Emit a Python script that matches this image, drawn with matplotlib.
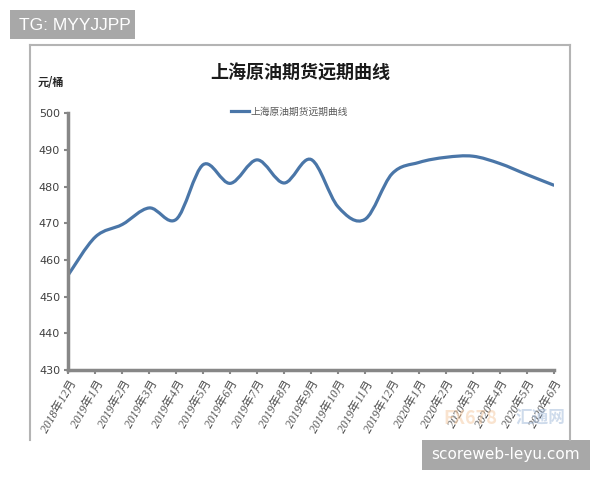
import matplotlib
matplotlib.use("Agg")
import matplotlib.pyplot as plt
from matplotlib.path import Path
from matplotlib.patches import PathPatch, Rectangle
from matplotlib.lines import Line2D

plt.rcParams['font.family'] = ['Noto Sans CJK SC', 'DejaVu Sans']

months = ["2018年12月", "2019年1月", "2019年2月", "2019年3月", "2019年4月",
          "2019年5月", "2019年6月", "2019年7月", "2019年8月", "2019年9月",
          "2019年10月", "2019年11月", "2019年12月", "2020年1月", "2020年2月",
          "2020年3月", "2020年4月", "2020年5月", "2020年6月"]
prices = [456.0, 466.3, 469.7, 474.2, 471.1,
          486.0, 480.9, 487.3, 481.0, 487.4,
          474.5, 471.1, 483.5, 486.6, 488.0,
          488.3, 486.3, 483.3, 480.4]
y_ticks = [430, 440, 450, 460, 470, 480, 490, 500]

title = "上海原油期货远期曲线"
line_color = "#4a76a8"
axis_gray = "#878787"


def smooth_path(xs, ys):
    # Catmull-Rom segments as cubic beziers, like a spreadsheet "smoothed line"
    verts = [(xs[0], ys[0])]
    codes = [Path.MOVETO]
    n = len(xs)
    for i in range(n - 1):
        x0, y0 = (xs[i - 1], ys[i - 1]) if i > 0 else (xs[i], ys[i])
        x1, y1 = xs[i], ys[i]
        x2, y2 = xs[i + 1], ys[i + 1]
        x3, y3 = (xs[i + 2], ys[i + 2]) if i + 2 < n else (x2, y2)
        verts += [(x1 + (x2 - x0) / 6, y1 + (y2 - y0) / 6),
                  (x2 - (x3 - x1) / 6, y2 - (y3 - y1) / 6),
                  (x2, y2)]
        codes += [Path.CURVE4] * 3
    return Path(verts, codes)


fig = plt.figure(figsize=(6, 4.8), dpi=100)
ax = fig.add_axes([0.114, 0.229, 0.809, 0.535])

xs = list(range(len(months)))
ax.add_patch(PathPatch(smooth_path(xs, prices), fill=False,
                       edgecolor=line_color, lw=2.3, capstyle='round'))
ax.set_xlim(0, len(months) - 1)
ax.set_ylim(y_ticks[0], y_ticks[-1])

ax.set_yticks(y_ticks)
ax.set_yticklabels([str(v) for v in y_ticks], color="#404040", fontsize=8,
                   family=['Liberation Sans Narrow', 'DejaVu Sans'])
ax.set_xticks(xs)
ax.set_xticklabels(months, rotation=60, ha='right', rotation_mode='anchor',
                   color="#505050", fontsize=8.5, style='italic',
                   family=['Liberation Serif', 'Noto Sans CJK SC'])

for side in ("top", "right"):
    ax.spines[side].set_visible(False)
for side in ("left", "bottom"):
    ax.spines[side].set_color(axis_gray)
    ax.spines[side].set_linewidth(2.5)
ax.tick_params(axis='both', direction='out', length=3, width=1.5,
               color=axis_gray, pad=3)

handle = Line2D([], [], color=line_color, lw=2.3)
fig.legend([handle], [title], loc='center', bbox_to_anchor=(0.483, 0.767),
           frameon=False, fontsize=7, handlelength=1.8, handletextpad=0.2,
           labelcolor="#595959")

fig.text(0.5, 1 - 73 / 480, title, ha='center', va='center',
         fontsize=13, weight='bold', color="#1a1a1a")
fig.text(38 / 600, 1 - 83 / 480, "元/桶", ha='left', va='center',
         fontsize=8, weight='bold', color="#262626")

# chart frame, bottom edge is cut off in the source image
frame_gray = "#b4b4b4"
fig.add_artist(Line2D([30 / 600, 30 / 600], [1 - 440 / 480, 1 - 45 / 480],
                      color=frame_gray, lw=1.5))
fig.add_artist(Line2D([570 / 600, 570 / 600], [1 - 440 / 480, 1 - 45 / 480],
                      color=frame_gray, lw=1.5))
fig.add_artist(Line2D([30 / 600, 570 / 600], [1 - 45 / 480, 1 - 45 / 480],
                      color=frame_gray, lw=1.5))

# faint logo watermark
fig.text(470 / 600, 1 - 418 / 480, "FX678", ha='center', va='center',
         fontsize=13, weight='bold', color="#f5c9a0", alpha=0.5)
fig.text(540 / 600, 1 - 418 / 480, "汇通网", ha='center', va='center',
         fontsize=12, weight='bold', color="#9fb8d9", alpha=0.5)

# overlay watermark boxes
box_gray = "#a8a8a8"
fig.add_artist(Rectangle((10 / 600, 1 - 39 / 480), 125 / 600, 29 / 480,
                         transform=fig.transFigure, color=box_gray, lw=0))
fig.text(19 / 600, 1 - 25 / 480, "TG: MYYJJPP", ha='left', va='center',
         fontsize=12.5, color="white", family='Liberation Sans')
fig.add_artist(Rectangle((422 / 600, 1 - 470 / 480), 168 / 600, 30 / 480,
                         transform=fig.transFigure, color=box_gray, lw=0))
fig.text(506 / 600, 1 - 455 / 480, "scoreweb-leyu.com", ha='center', va='center',
         fontsize=11, color="white", family='DejaVu Sans')

fig.savefig("out.png", dpi=100)
